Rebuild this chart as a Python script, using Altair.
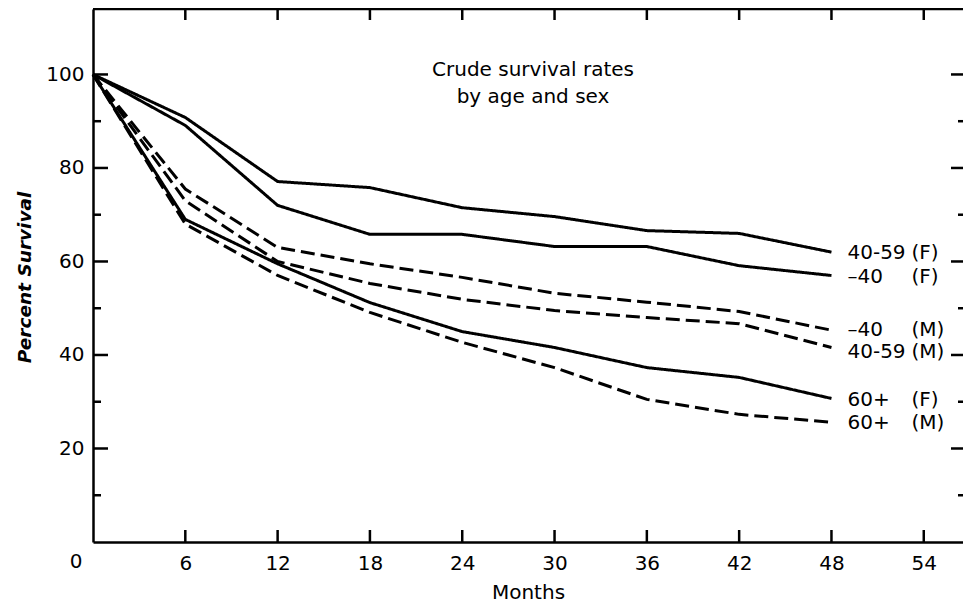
import altair as alt
import pandas as pd

# ---- data ----
months = [0, 6, 12, 18, 24, 30, 36, 42, 48]
series = ["40-59(F)", "-40 (F)", "-40 (M)", "40-59(M)", "60+ (F)", "60+ (M)"]
series_sex = ["F", "F", "M", "M", "F", "M"]
surv_40_59_F = [100, 90.8, 77.1, 75.8, 71.5, 69.6, 66.6, 66.0, 62.0]
surv_u40_F = [100, 89.1, 72.0, 65.8, 65.8, 63.2, 63.2, 59.1, 57.0]
surv_u40_M = [100, 75.5, 63.0, 59.5, 56.6, 53.2, 51.3, 49.3, 45.3]
surv_40_59_M = [100, 73.0, 60.0, 55.3, 51.9, 49.5, 48.0, 46.7, 41.6]
surv_60_F = [100, 69.0, 59.5, 51.2, 45.0, 41.6, 37.3, 35.2, 30.7]
surv_60_M = [100, 68.0, 57.0, 49.1, 42.7, 37.3, 30.5, 27.3, 25.6]

label_age = ["40-59", "\u201340", "\u201340", "40-59", "60+", "60+"]
label_sex = ["(F)", "(F)", "(M)", "(M)", "(F)", "(M)"]
label_y = [61.8, 56.7, 45.3, 40.6, 30.4, 25.5]
label_x = [48, 48, 48, 48, 48, 48]

x_tick_values = [6, 12, 18, 24, 30, 36, 42, 48, 54]
y_label_values = [20, 40, 60, 80, 100]
y_major_ticks = [20, 40, 60, 80, 100]
y_minor_ticks = [10, 30, 50, 70, 90]

annotation_lines = ["Crude survival rates", "by age and sex"]
annotation_x = [28.6, 28.6]
annotation_y = [101.0, 95.1]

FONT = "DejaVu Sans"
W, H = 870, 533

# ---- tables ----
all_vals = [surv_40_59_F, surv_u40_F, surv_u40_M, surv_40_59_M, surv_60_F, surv_60_M]
rows = []
for name, sx, vals in zip(series, series_sex, all_vals):
    for m, v in zip(months, vals):
        rows.append({"Months": m, "Survival": v, "series": name, "sex": sx})
df = pd.DataFrame(rows)

labels_df = pd.DataFrame({"Months": label_x, "Survival": label_y,
                          "age": label_age, "sx": label_sex})
xt_df = pd.DataFrame({"Months": x_tick_values})
ymaj_df = pd.DataFrame({"Survival": y_major_ticks})
ymin_df = pd.DataFrame({"Survival": y_minor_ticks})
ann_df = pd.DataFrame({"Months": annotation_x, "Survival": annotation_y, "t": annotation_lines})
zero_df = pd.DataFrame({"Months": [0], "Survival": [0], "t": ["0"]})

xs = alt.Scale(domain=[0, 56.55], nice=False, zero=False)
ys = alt.Scale(domain=[0, 114], nice=False, zero=False)

x_axis = alt.Axis(values=x_tick_values, domain=True, domainColor="black", domainWidth=2.5,
                  ticks=False, tickSize=0, grid=False,
                  labelFont=FONT, labelFontSize=20, labelPadding=11, labelColor="black",
                  title="Months", titleFont=FONT, titleFontSize=20, titleFontWeight="normal",
                  titleColor="black", titleY=40)
y_axis = alt.Axis(values=y_label_values, domain=True, domainColor="black", domainWidth=2.5,
                  ticks=False, tickSize=0, grid=False,
                  labelFont=FONT, labelFontSize=20, labelPadding=9, labelColor="black",
                  title="Percent Survival", titleFont=FONT, titleFontSize=18.5,
                  titleFontWeight="bold", titleFontStyle="italic", titleColor="black",
                  titleX=-63, titleY=268, titleBaseline="alphabetic")


def xq():
    return alt.X("Months:Q", scale=xs, axis=x_axis)


def yq():
    return alt.Y("Survival:Q", scale=ys, axis=y_axis)


lines = alt.Chart(df).mark_line(color="black", strokeWidth=3).encode(
    x=xq(),
    y=yq(),
    detail="series:N",
    strokeDash=alt.StrokeDash("sex:N",
                              scale=alt.Scale(domain=["F", "M"], range=[[1, 0], [14, 6]]),
                              legend=None),
)

tick_style = dict(color="black", strokeWidth=2.5)
bottom_ticks = alt.Chart(xt_df).mark_rule(**tick_style).encode(
    x=xq(), y=alt.value(H), y2=alt.value(H - 12))
top_ticks = alt.Chart(xt_df).mark_rule(**tick_style).encode(
    x=xq(), y=alt.value(0), y2=alt.value(11))
top_line = alt.Chart(zero_df).mark_rule(**tick_style).encode(
    x=alt.value(0), x2=alt.value(W), y=alt.value(0))
left_major = alt.Chart(ymaj_df).mark_rule(**tick_style).encode(
    y=yq(), x=alt.value(0), x2=alt.value(15))
left_minor = alt.Chart(ymin_df).mark_rule(**tick_style).encode(
    y=yq(), x=alt.value(0), x2=alt.value(8))
right_major = alt.Chart(ymaj_df).mark_rule(**tick_style).encode(
    y=yq(), x=alt.value(W), x2=alt.value(W - 12))
right_minor = alt.Chart(ymin_df).mark_rule(**tick_style).encode(
    y=yq(), x=alt.value(W), x2=alt.value(W - 5))

age_text = alt.Chart(labels_df).mark_text(
    font=FONT, fontSize=20, align="left", baseline="middle", dx=16, color="black"
).encode(x=xq(), y=yq(), text="age:N")
sex_text = alt.Chart(labels_df).mark_text(
    font=FONT, fontSize=20, align="left", baseline="middle", dx=80, color="black"
).encode(x=xq(), y=yq(), text="sx:N")

ann_text = alt.Chart(ann_df).mark_text(
    font=FONT, fontSize=20, align="center", baseline="middle", color="black"
).encode(x=xq(), y=yq(), text="t:N")

zero_text = alt.Chart(zero_df).mark_text(
    font=FONT, fontSize=20, align="center", baseline="middle", dx=-17, dy=20, color="black"
).encode(x=xq(), y=yq(), text="t:N")

chart = alt.layer(
    lines, bottom_ticks, top_ticks, top_line, left_major, left_minor, right_major, right_minor,
    age_text, sex_text, ann_text, zero_text
).properties(
    width=W, height=H,
    autosize=alt.AutoSizeParams(type="none"),
    padding={"left": 85, "top": 1, "right": 0, "bottom": 64},
    background="white",
).configure_view(
    strokeWidth=0
)

chart.save("out.html", embed_options={"renderer": "svg", "actions": False})
